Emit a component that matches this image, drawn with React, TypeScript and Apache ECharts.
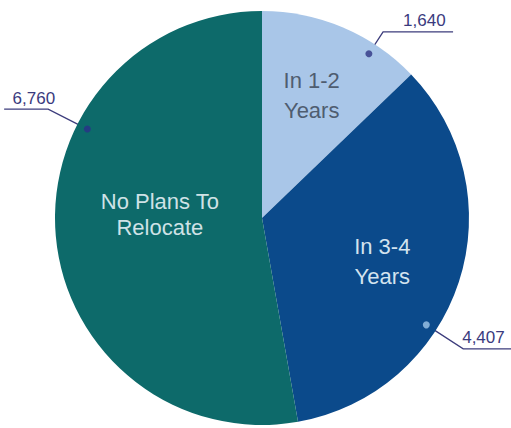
import React, { useEffect, useRef } from "react";
import * as echarts from "echarts";

// ---- data ----
const categories = ["In 1-2 Years", "In 3-4 Years", "No Plans To Relocate"];
const sliceLabelLines = [["In 1-2", "Years"], ["In 3-4", "Years"], ["No Plans To", "Relocate"]];
const values = [1640, 4407, 6760];
const valueLabels = ["1,640", "4,407", "6,760"];

// ---- style / layout ----
const colors = ["#a9c6e8", "#0b4a8b", "#0d6a6a"];
const insideColors = ["#4f5d70", "#d3e3ef", "#cfe2e6"];
const insideLineHeight = [30, 30, 26];
// vertical spacer: positive = spacer below (text moves up), negative = spacer above (text moves down)
const insideSpacer = [50, -22, 26];
const insideLeftPad = [16, 38, 8];
const FONT = "'Liberation Sans', Arial, sans-serif";
const CX = 262;
const CY = 218;
const R = 207;
const RA = 196;
const anchorShift = [10, 15, 32];
const lineLen = [26, 44, 44];
const lineLen2 = [70, 48, 44];
const textGap = [-50, -49, -51];
const dotColors = ["#2f3583", "#9fc5e8", "#2b318a"];
const leaderColor = "#3c3c7c";
const valueColor = "#3a3a7e";

export default function App() {
  const ref = useRef<HTMLDivElement>(null);
  useEffect(() => {
    if (!ref.current) return;
    const chart = echarts.init(ref.current, undefined, { renderer: "svg" });
    const total = values.reduce((a, b) => a + b, 0);
    const cumStart: number[] = [];
    values.reduce((acc, v, i) => {
      cumStart[i] = acc;
      return acc + v;
    }, 0);

    const insideText = (i: number) => {
      const body = sliceLabelLines[i].map((t) => `{a|${t}}`).join("\n");
      const sp = insideSpacer[i];
      if (sp > 0) return `${body}\n{s| }`;
      if (sp < 0) return `{s| }\n${body}`;
      return body;
    };

    const mainPie: any = {
      type: "pie",
      center: [CX, CY],
      radius: R,
      startAngle: 90,
      clockwise: true,
      silent: true,
      avoidLabelOverlap: false,
      label: { show: true, position: "inside" },
      labelLine: { show: false },
      data: values.map((v, i) => ({
        value: v,
        name: categories[i],
        itemStyle: { color: colors[i] },
        label: {
          show: true,
          position: "inside",
          formatter: insideText(i),
          padding: [0, 0, 0, insideLeftPad[i]],
          rich: {
            a: {
              color: insideColors[i],
              fontSize: 22,
              fontFamily: FONT,
              lineHeight: insideLineHeight[i],
              align: "center",
            },
            s: { fontSize: 1, lineHeight: Math.abs(insideSpacer[i]) },
          },
        },
      })),
    };

    const labelPies: any[] = values.map((_, k) => ({
      type: "pie",
      center: [CX, CY],
      radius: RA,
      startAngle: 90 - anchorShift[k],
      clockwise: true,
      silent: true,
      avoidLabelOverlap: false,
      bleedMargin: 0,
      itemStyle: { color: "rgba(0,0,0,0)" },
      label: { show: false },
      labelLine: { show: false },
      data: values.map((v, i) =>
        i === k
          ? {
              value: v,
              name: categories[i],
              label: {
                show: true,
                position: "outside",
                formatter: `{v|${valueLabels[i]}}\n{s| }`,
                distanceToLabelLine: textGap[i],
                rich: {
                  v: { color: valueColor, fontSize: 17, fontFamily: FONT, lineHeight: 20 },
                  s: { fontSize: 1, lineHeight: 22 },
                },
              },
              labelLine: {
                show: true,
                length: lineLen[i],
                length2: lineLen2[i],
                lineStyle: { color: leaderColor, width: 1.3 },
              },
            }
          : { value: v, name: categories[i] }
      ),
    }));

    const dots: any = {
      type: "scatter",
      coordinateSystem: "polar",
      symbol: "circle",
      symbolSize: 7,
      silent: true,
      z: 10,
      data: values.map((v, i) => ({
        value: [RA, cumStart[i] + v / 2 + (anchorShift[i] / 360) * total],
        itemStyle: { color: dotColors[i] },
      })),
    };

    chart.setOption({
      animation: false,
      backgroundColor: "#ffffff",
      polar: { center: [CX, CY], radius: R },
      angleAxis: {
        type: "value",
        min: 0,
        max: total,
        startAngle: 90,
        clockwise: true,
        show: false,
      },
      radiusAxis: { type: "value", min: 0, max: R, show: false },
      series: [mainPie, ...labelPies, dots],
    });
    return () => chart.dispose();
  }, []);
  return (
    <div
      ref={ref}
      style={{ position: "absolute", left: 0, top: 0, width: 511, height: 428 }}
    />
  );
}
